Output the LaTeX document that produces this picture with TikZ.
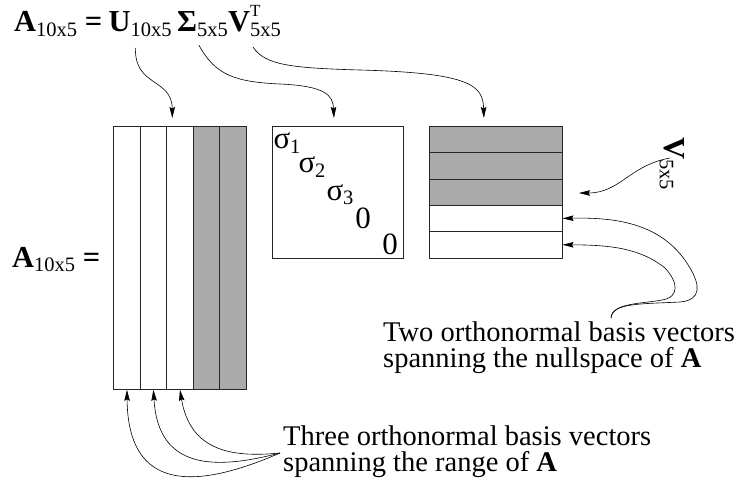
\documentclass[tikz,border=0pt]{standalone}
\usepackage{fontspec}
\setmainfont{Liberation Serif}
\usetikzlibrary{arrows.meta,positioning,calc}
\definecolor{shade}{RGB}{170,170,170}
\newcommand{\dimsub}[1]{\raisebox{-0.3ex}{\fontsize{20.5}{20.5}\selectfont #1}}
\newcommand{\supsub}[2]{\rlap{\raisebox{1.1ex}{\fontsize{17}{17}\selectfont #1}}\dimsub{#2}}

\begin{document}
\begin{tikzpicture}[x=1pt,y=-1pt,
 font=\fontsize{28.5}{26}\selectfont,
 col/.style={draw=black!85,line width=0.8pt,minimum width=26.5pt,minimum height=263pt,inner sep=0pt,anchor=north west},
 row/.style={draw=black!85,line width=0.8pt,minimum width=132.4pt,minimum height=26.3pt,inner sep=0pt,anchor=north west},
 ent/.style={inner sep=0pt,anchor=center,font=\fontsize{31}{31}\selectfont},
 eq/.style={inner sep=0pt,anchor=base west,font=\fontsize{30.5}{30}\selectfont},
 lab/.style={align=left,inner sep=0pt,anchor=base west},
 ar/.style={-{Stealth[length=11pt,width=5.5pt,inset=1.5pt]},line width=0.6pt}]
\useasboundingbox (0,0) rectangle (738,484);
% formula on top
\node[eq] (eqA) at (14,32) {\textbf{A}\dimsub{10x5} \textbf{=}};
\node[eq,base right=6pt of eqA] (eqU) {\textbf{U}\dimsub{10x5}};
\node[eq,base right=5pt of eqU] (eqS) {\textbf{Σ}\dimsub{5x5}};
\node[eq,base right=0pt of eqS] (eqV) {\textbf{V}\supsub{T}{5x5}};
% U
\foreach \i in {1,...,5}{
 \ifnum\i>3 \def\fc{shade}\else\def\fc{white}\fi
 \node[col,fill=\fc] (u\i) at ({113.3+(\i-1)*26.5},126) {};
}
\node[eq] (Alab) at (12,267) {\textbf{A}\dimsub{10x5} \textbf{=}};
% Sigma
\node[draw=black!85,line width=0.8pt,minimum size=131.7pt,inner sep=0pt,anchor=north west] (S) at (271.7,126) {};
\node[ent] (s1) at (287,143) {σ\dimsub{1}};
\node[ent] (s2) at (312,167) {σ\dimsub{2}};
\node[ent] (s3) at (340,195) {σ\dimsub{3}};
\node[ent] (s4) at (363,218) {0};
\node[ent] (s5) at (390,244) {0};
% V
\foreach \i in {1,...,5}{
 \ifnum\i<4 \def\fc{shade}\else\def\fc{white}\fi
 \node[row,fill=\fc] (v\i) at (429.3,{126+(\i-1)*26.3}) {};
}
\node[eq,rotate=-90] (Vlab) at (664,137) {\textbf{V}\dimsub{5x5}};
% notes
\node[lab] (nullTxt) at (383,367) {Two orthonormal basis vectors\\spanning the nullspace of \textbf{A}};
\node[lab] (rangeTxt) at (283,471) {Three orthonormal basis vectors\\spanning the range of \textbf{A}};
\coordinate (nullTip) at (611,318);
\coordinate (rangeTip) at (280,453);
\coordinate (vTip) at (579,193);
% arrows
\draw[ar] ($(eqU.base west)+(27,16)$) .. controls ($(eqU.base west)+(26,55)$) and (172,78) .. ($(u3.north west)+(6,-8)$);
\draw[ar] ($(eqS.base west)+(22,13)$) .. controls (215,75) and (235,82) .. (280,84) .. controls (325,86) and (333,95) .. ($(S.north)+(-4,-8)$);
\draw[ar] ($(eqV.base west)+(25,15)$) .. controls (265,65) and (290,68) .. (360,70) .. controls (470,73) and (483,85) .. ($(v1.north)+(-12,-8)$);
\draw[ar] ($(Vlab.north west)+(-14,21)$) .. controls (630,165) and (620,193) .. (vTip);
\draw[ar] (nullTip) .. controls (612,303) and (640,304) .. (680,302) .. controls (702,300) and (700,285) .. (690,268) .. controls (665,225) and (620,217) .. (v4.east);
\draw[ar] (nullTip) .. controls (612,303) and (640,304) .. (662,300) .. controls (680,297) and (678,282) .. (665,268) .. controls (640,248) and (610,245) .. (v5.east);
\draw[ar] (rangeTip) .. controls (230,458) and (190,450) .. (u3.south);
\draw[ar] (rangeTip) .. controls (215,470) and (158,470) .. (u2.south);
\draw[ar] (rangeTip) .. controls (195,490) and (128,492) .. (u1.south);
\end{tikzpicture}
\end{document}
